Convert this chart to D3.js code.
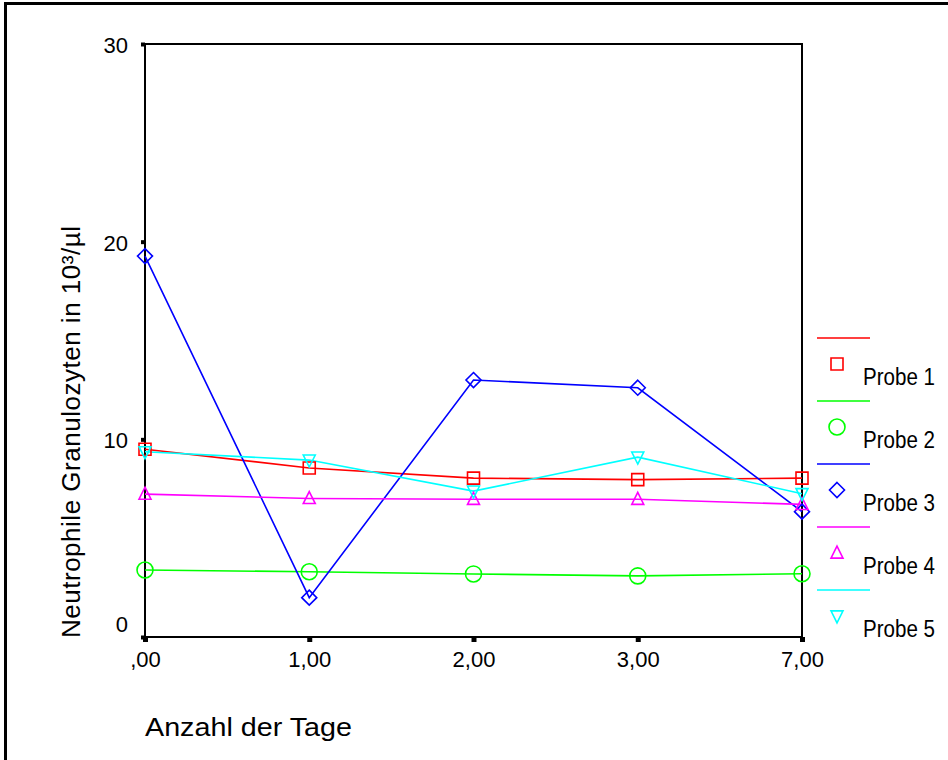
<!DOCTYPE html>
<html>
<head>
<meta charset="utf-8">
<script src="https://cdn.jsdelivr.net/npm/d3@7"></script>
<style>
  html, body { margin: 0; padding: 0; background: #fff; }
  svg { display: block; }
  text { font-family: "Liberation Sans", Arial, sans-serif; fill: #000; }
</style>
</head>
<body>
<svg id="chart" width="948" height="760"></svg>
<script>
// ---- data ----
const categories = [",00", "1,00", "2,00", "3,00", "7,00"];
const seriesNames = ["Probe 1", "Probe 2", "Probe 3", "Probe 4", "Probe 5"];
const probe1 = [9.5, 8.55, 8.04, 7.96, 8.04];
const probe2 = [3.39, 3.3, 3.19, 3.09, 3.2];
const probe3 = [19.27, 1.99, 13.0, 12.61, 6.34];
const probe4 = [7.23, 7.01, 6.97, 6.97, 6.71];
const probe5 = [9.37, 8.95, 7.38, 9.1, 7.25];
const yTicks = [0, 10, 20, 30];
const yAxisTitle = "Neutrophile Granulozyten in 10³/µl";
const xAxisTitle = "Anzahl der Tage";

const seriesValues = [probe1, probe2, probe3, probe4, probe5];
const colors = ["#ff0000", "#00ff00", "#0000ff", "#ff00ff", "#00ffff"];

// ---- custom marker shapes ----
const symSquare = { draw(ctx, size) { const h = Math.sqrt(size) / 2; ctx.rect(-h, -h, 2 * h, 2 * h); } };
const symCircle = { draw(ctx, size) { const r = Math.sqrt(size / Math.PI); ctx.moveTo(r, 0); ctx.arc(0, 0, r, 0, 2 * Math.PI); } };
const symDiamond = { draw(ctx, size) { const h = Math.sqrt(size) / 2; ctx.moveTo(0, -h); ctx.lineTo(h, 0); ctx.lineTo(0, h); ctx.lineTo(-h, 0); ctx.closePath(); } };
const symTriUp = { draw(ctx, size) { const s = Math.sqrt(size) / 2; ctx.moveTo(0, -s * 1.15); ctx.lineTo(s, s * 0.85); ctx.lineTo(-s, s * 0.85); ctx.closePath(); } };
const symTriDown = { draw(ctx, size) { const s = Math.sqrt(size) / 2; ctx.moveTo(0, s * 1.15); ctx.lineTo(s, -s * 0.85); ctx.lineTo(-s, -s * 0.85); ctx.closePath(); } };
const shapes = [
  d3.symbol(symSquare, 144),
  d3.symbol(symCircle, 201),
  d3.symbol(symDiamond, 225),
  d3.symbol(symTriUp, 144),
  d3.symbol(symTriDown, 144)
];

// ---- layout ----
const svg = d3.select("#chart");
const plotLeft = 145, plotRight = 802, plotTop = 44, plotBottom = 637;

const x = d3.scalePoint().domain(categories).range([plotLeft, plotRight]).padding(0);
const y = d3.scaleLinear().domain([0, 30]).range([plotBottom, plotTop]);

// outer frame (top and left borders)
svg.append("path")
  .attr("d", `M5.5,760 V3.5 H948`)
  .attr("fill", "none").attr("stroke", "#000").attr("stroke-width", 3);

// plot frame
svg.append("rect")
  .attr("x", plotLeft).attr("y", plotTop)
  .attr("width", plotRight - plotLeft).attr("height", plotBottom - plotTop)
  .attr("fill", "none").attr("stroke", "#000").attr("stroke-width", 2);

// y axis
const yAxis = svg.append("g")
  .attr("transform", `translate(${plotLeft},0)`)
  .call(d3.axisLeft(y).tickValues(yTicks).tickSize(4).tickPadding(13).tickFormat(d3.format("d")));
yAxis.select(".domain").remove();
yAxis.selectAll(".tick line").attr("stroke", "#000").attr("stroke-width", 4);
yAxis.selectAll(".tick text")
  .style("font-size", "22px")
  .attr("font-family", null)
  .attr("dy", d => d === 0 ? "-0.25em" : "0.38em");

// x axis
const xAxis = svg.append("g")
  .attr("transform", `translate(0,${plotBottom})`)
  .call(d3.axisBottom(x).tickSize(5).tickPadding(9));
xAxis.select(".domain").remove();
xAxis.selectAll(".tick line").attr("stroke", "#000").attr("stroke-width", 5);
xAxis.selectAll(".tick text")
  .style("font-size", "22px")
  .attr("font-family", null);

// axis titles
svg.append("text")
  .attr("transform", "translate(80,432) rotate(-90)")
  .attr("text-anchor", "middle")
  .attr("textLength", 412).attr("lengthAdjust", "spacing")
  .style("font-size", "26px")
  .text(yAxisTitle);

svg.append("text")
  .attr("x", 145).attr("y", 736)
  .attr("textLength", 207).attr("lengthAdjust", "spacingAndGlyphs")
  .style("font-size", "26px")
  .text(xAxisTitle);

// lines
const line = d3.line().x((d, i) => x(categories[i])).y(d => y(d));
seriesValues.forEach((vals, s) => {
  svg.append("path")
    .datum(vals)
    .attr("d", line)
    .attr("fill", "none")
    .attr("stroke", colors[s])
    .attr("stroke-width", 1.6);
});

// markers
seriesValues.forEach((vals, s) => {
  svg.append("g").selectAll("path")
    .data(vals)
    .join("path")
    .attr("transform", (d, i) => `translate(${x(categories[i])},${y(d)})`)
    .attr("d", shapes[s]())
    .attr("fill", "none")
    .attr("stroke", colors[s])
    .attr("stroke-width", 1.6);
});

// legend
const legend = svg.append("g");
seriesNames.forEach((name, s) => {
  const g = legend.append("g").attr("transform", `translate(0,${63 * s})`);
  g.append("line")
    .attr("x1", 817).attr("x2", 870).attr("y1", 338).attr("y2", 338)
    .attr("stroke", colors[s]).attr("stroke-width", 1.6);
  g.append("path")
    .attr("transform", `translate(837,364)`)
    .attr("d", shapes[s]())
    .attr("fill", "none")
    .attr("stroke", colors[s])
    .attr("stroke-width", 1.6);
  g.append("text")
    .attr("x", 863).attr("y", 385)
    .attr("textLength", 72).attr("lengthAdjust", "spacingAndGlyphs")
    .style("font-size", "23px")
    .text(name);
});
</script>
</body>
</html>
